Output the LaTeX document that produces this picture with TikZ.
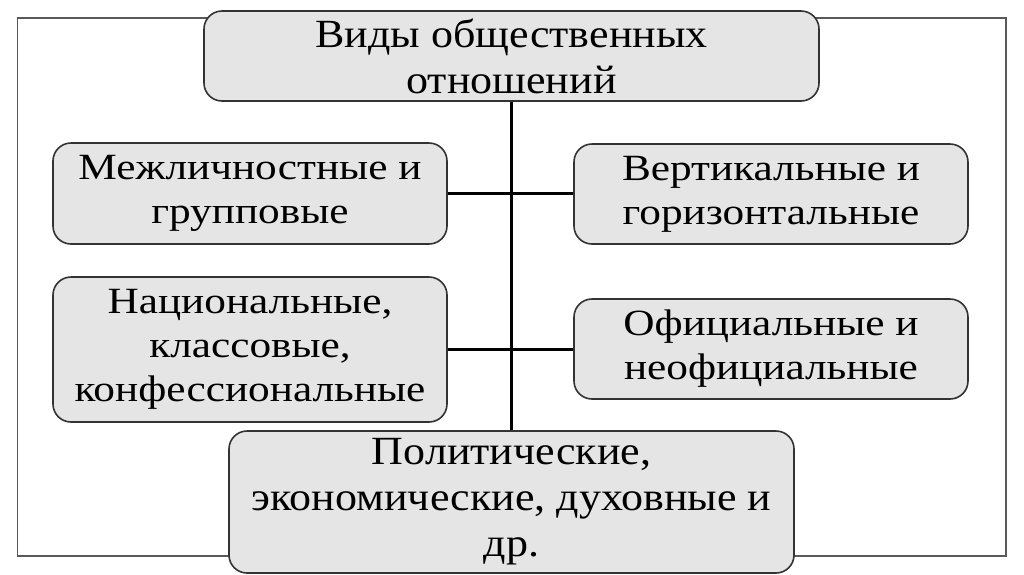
\documentclass[tikz,border=0pt]{standalone}
\usepackage{fontspec}
\setmainfont{Liberation Serif}
\newfontfamily\sidefont{Liberation Serif}[FakeStretch=1.17]
\newfontfamily\mainfont{Liberation Serif}[FakeStretch=1.1]
\begin{document}
\begin{tikzpicture}[x=1pt,y=-1pt,
  box/.style={draw=black!80, line width=1.6pt, fill=gray!20, rounded corners=18pt,
    inner sep=0pt, align=center, anchor=center},
  sidetxt/.style={font=\sidefont\fontsize{37}{44}\selectfont},
  maintxt/.style={font=\mainfont\fontsize{40}{46}\selectfont},
  conn/.style={draw=black, line width=2.6pt},
  frame/.style={draw=black!65, line width=1.4pt}]
\useasboundingbox (0,0) rectangle (1024,574);
\draw[frame] (17.5,18) rectangle (1006,556);
\node[box, maintxt, minimum width=615pt, minimum height=90pt] (top) at (511.5,56) {Виды общественных\\отношений};
\node[box, maintxt, minimum width=565pt, minimum height=142pt] (bot) at (511.5,502) {Политические,\\экономические, духовные и\\др.};
\node[box, sidetxt, minimum width=394pt, minimum height=101pt] (l1) at (250,193.5) {Межличностные и\\групповые};
\node[box, sidetxt, minimum width=394pt, minimum height=145pt] (l2) at (250,349.5) {Национальные,\\классовые,\\конфессиональные};
\node[box, sidetxt, minimum width=394pt, minimum height=100pt] (r1) at (771,194) {Вертикальные и\\горизонтальные};
\node[box, sidetxt, minimum width=394pt, minimum height=100pt] (r2) at (771,349) {Официальные и\\неофициальные};
\draw[conn] (top.south) -- (bot.north);
\draw[conn] (l1.east) -- (l1.east -| r1.west);
\draw[conn] (l2.east) -- (l2.east -| r2.west);
\end{tikzpicture}
\end{document}
